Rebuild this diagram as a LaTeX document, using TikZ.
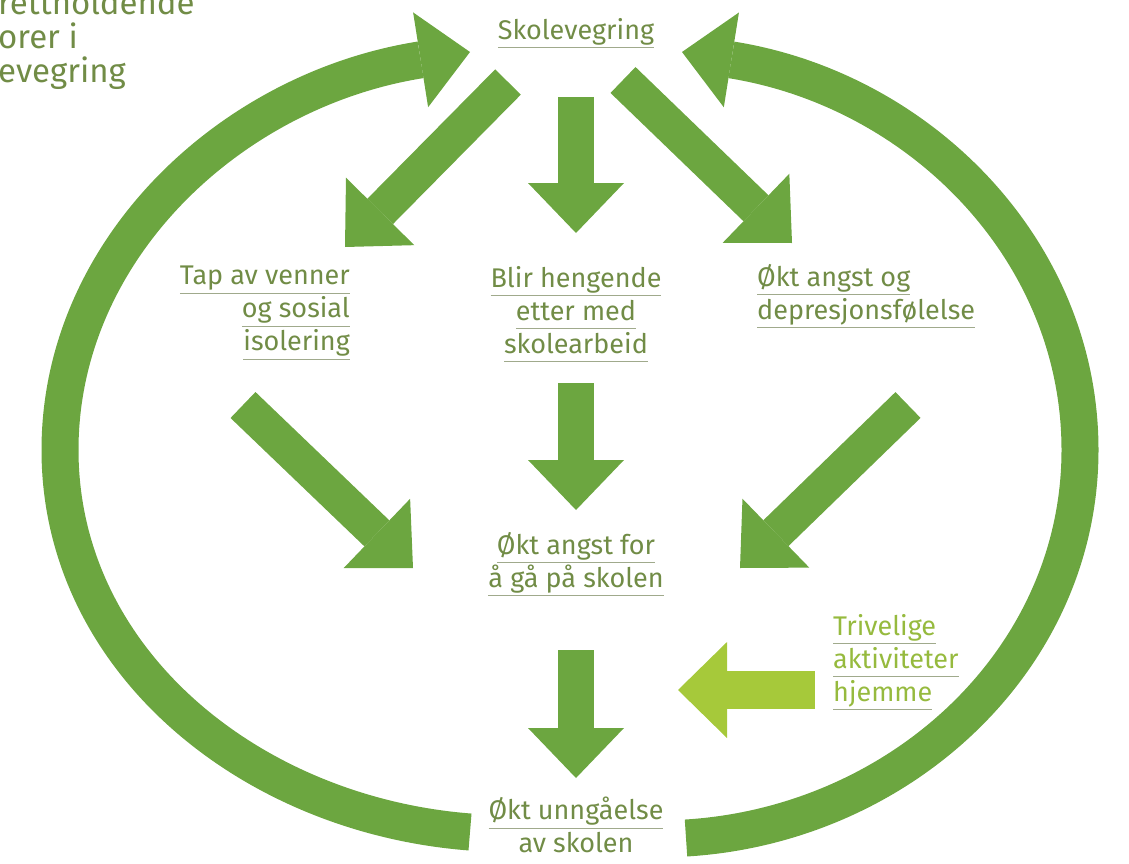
\documentclass[tikz,border=0pt]{standalone}
\usepackage{fontspec}
\setmainfont{Fira Sans}
\usepackage{xcolor}
\usepackage{tikz}
\usetikzlibrary{arrows.meta}

\definecolor{arrowgreen}{RGB}{108,166,64}
\definecolor{lightgreen}{RGB}{166,201,58}
\definecolor{textolive}{RGB}{113,140,70}
\definecolor{textlight}{RGB}{150,186,62}
\definecolor{ulcol}{RGB}{160,170,140}

\newcommand{\undl}[1]{\leavevmode\setbox0=\hbox{#1}\rlap{\textcolor{ulcol}{\rule[-9pt]{\wd0}{1.2pt}}}\box0}

\begin{document}
\begin{tikzpicture}[x=1pt,y=-1pt,
	lbl/.style={inner sep=0pt, text=textolive, font=\fontsize{27}{33}\selectfont},
	bigarc/.style={draw=arrowgreen, line width=37pt, -{Triangle[length=50pt,width=96pt,line width=0pt]}},
	blockarrow/.style={draw=arrowgreen, line width=36pt, -{Triangle[length=50pt,width=96pt,line width=0pt]}},
	lightarrow/.style={draw=lightgreen, line width=38pt, -{Triangle[length=49pt,width=96pt,line width=0pt]}}]
\useasboundingbox (0,0) rectangle (1129,864);

\node[lbl, anchor=north west, font=\fontsize{33}{34}\selectfont, align=left] (title) at (-2,-10) {rettholdende\\orer i\\evegring};

\node[lbl, anchor=north] (skol) at (576,18) {\undl{Skolevegring}};
\node[lbl, anchor=north east, align=right] (tap) at (350,266) {\undl{Tap av venner}\\\undl{og sosial}\\\undl{isolering}};
\node[lbl, anchor=north, align=center] (blir) at (576,266) {\undl{Blir hengende}\\\undl{etter med}\\\undl{skolearbeid}};
\node[lbl, anchor=north west, align=left] (angstdep) at (757,264) {\undl{Økt angst og}\\\undl{depresjonsfølelse}};
\node[lbl, anchor=north, align=center] (angstskole) at (576,532) {\undl{Økt angst for}\\\undl{å gå på skolen}};
\node[lbl, anchor=north west, align=left, text=textlight] (triv) at (833,614) {\undl{Trivelige}\\\undl{aktiviteter}\\\undl{hjemme}};
\node[lbl, anchor=north, align=center] (unng) at (576,797) {\undl{Økt unngåelse}\\av skolen};

\coordinate (tl0) at (508,82);  \coordinate (tl1) at (345,247);
\coordinate (tm0) at (576,97);  \coordinate (tm1) at (576,233);
\coordinate (tr0) at (623,80);  \coordinate (tr1) at (792,243);
\coordinate (ml0) at (243,405); \coordinate (ml1) at (413,568);
\coordinate (mm0) at (576,383); \coordinate (mm1) at (576,510);
\coordinate (mr0) at (908,405); \coordinate (mr1) at (740,568);
\coordinate (bm0) at (576,650); \coordinate (bm1) at (576,778);
\coordinate (lt0) at (815,690); \coordinate (lt1) at (678,690);
\coordinate (arcl0) at (470,832); \coordinate (arcl1) at (470,52);
\coordinate (arcr0) at (686,838); \coordinate (arcr1) at (682,52);

\draw[blockarrow] (tl0) -- (tl1);
\draw[blockarrow] (tm0) -- (tm1);
\draw[blockarrow] (tr0) -- (tr1);
\draw[blockarrow] (ml0) -- (ml1);
\draw[blockarrow] (mm0) -- (mm1);
\draw[blockarrow] (mr0) -- (mr1);
\draw[blockarrow] (bm0) -- (bm1);
\draw[lightarrow] (lt0) -- (lt1);

\draw[bigarc] (arcl0) .. controls (250,815) and (60,660) .. (60,450) .. controls (60,250) and (230,90) .. (arcl1);
\draw[bigarc] (arcr0) .. controls (900,825) and (1080,660) .. (1080,450) .. controls (1080,250) and (920,90) .. (arcr1);
\end{tikzpicture}
\end{document}
